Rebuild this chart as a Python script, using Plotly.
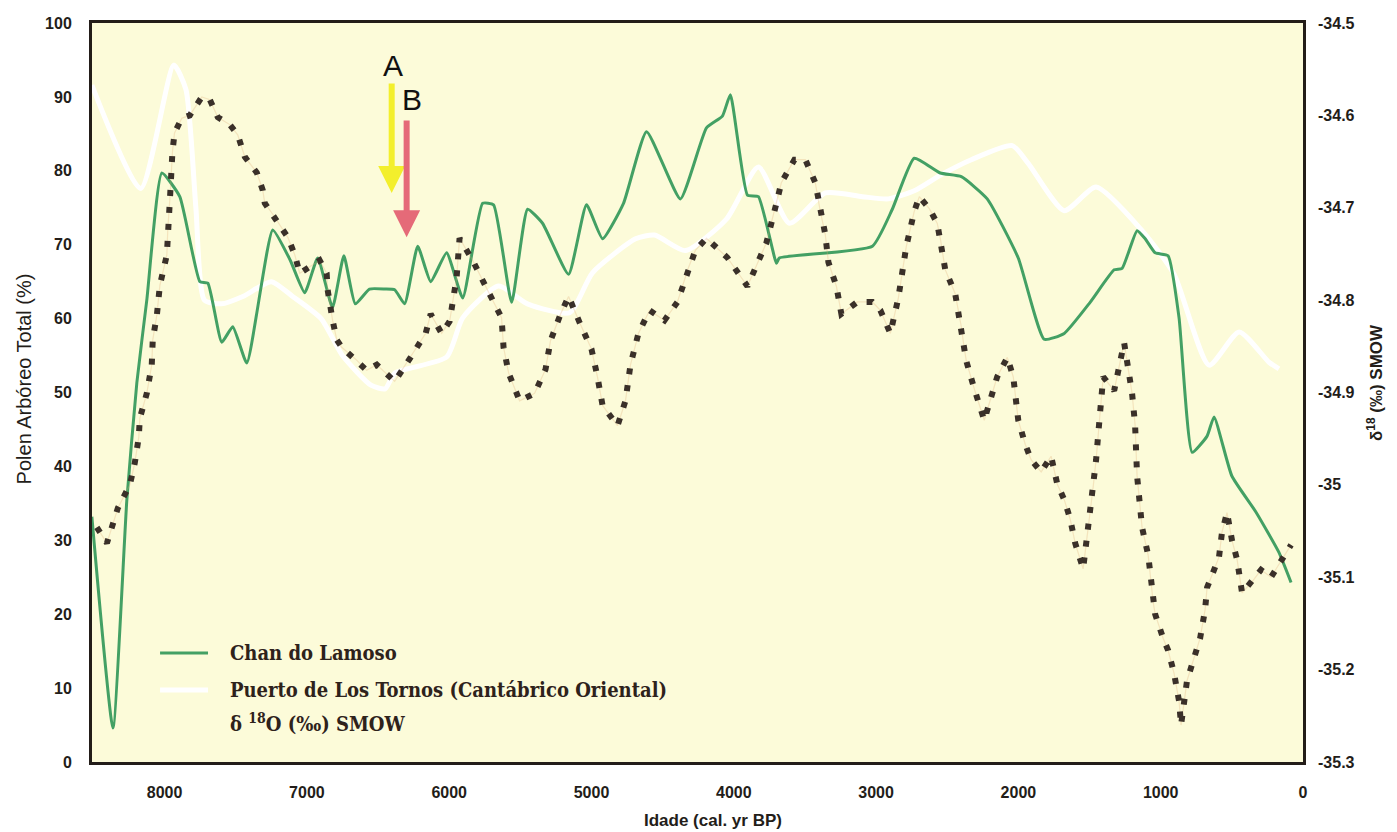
import plotly.graph_objects as go

# Chan do Lamoso – arboreal pollen (%)
lamoso_age = [8511, 8363, 8265, 8195, 8125, 8019, 7893, 7752, 7696, 7598, 7521, 7422, 7240, 7117, 7015,
              6924, 6820, 6740, 6660, 6560, 6450, 6383, 6313, 6221, 6130, 6018, 5905, 5765, 5688, 5561,
              5449, 5344, 5161, 5035, 4922, 4775, 4613, 4375, 4192, 4080, 4024, 3904, 3827, 3700, 3680,
              3026, 2886, 2732, 2549, 2401, 2219, 2001, 1819, 1678, 1496, 1327, 1271, 1166, 1109, 1039,
              948, 871, 779, 674, 625, 500, 330, 170, 84]
lamoso_ap = [33.2, 4.6, 35.5, 51.3, 62.5, 79.7, 76.5, 65.0, 64.8, 56.8, 58.9, 54.0, 72.0, 67.9, 63.5,
             68.2, 61.5, 68.5, 62.0, 64.0, 64.0, 63.9, 62.0, 69.8, 65.0, 68.9, 62.8, 75.6, 75.4, 62.2,
             74.8, 72.9, 66.0, 75.4, 70.8, 75.6, 85.3, 76.2, 85.8, 87.4, 90.3, 76.7, 76.5, 67.5, 68.2,
             69.8, 74.8, 81.7, 79.7, 79.2, 76.2, 68.2, 57.2, 58.0, 62.2, 66.6, 66.8, 71.9, 70.8, 68.9,
             68.5, 60.1, 41.9, 44.1, 46.7, 38.7, 33.8, 28.4, 24.3]

# Puerto de Los Tornos (Cantábrico Oriental) – arboreal pollen (%)
tornos_age = [8511, 8168, 7935, 7850, 7780, 7720, 7600, 7450, 7250, 7100, 6900, 6750, 6550, 6450, 6383,
              6018, 5905, 5653, 5450, 5154, 4993, 4690, 4557, 4340, 4050, 3827, 3609, 3357, 3097, 2914,
              2732, 2549, 2331, 2043, 1931, 1678, 1454, 1131, 906, 660, 449, 239, 169]
tornos_ap = [91.6, 77.6, 94.3, 91.0, 75.0, 62.5, 62.0, 63.0, 65.0, 63.0, 60.0, 55.0, 51.0, 50.5, 52.6,
             54.8, 60.1, 64.4, 62.0, 60.8, 66.2, 70.8, 71.3, 69.2, 73.5, 80.5, 72.9, 77.0, 76.5, 76.2,
             77.3, 79.4, 81.5, 83.4, 81.0, 74.6, 77.8, 71.9, 66.0, 53.7, 58.2, 54.1, 53.2]

# delta 18O (per mil, SMOW)
d18o_age = [8476, 8405, 8328, 8244, 8209, 8181, 8174, 8125, 8090, 8083, 8054, 8033, 7984, 7977, 7960,
            7945, 7930, 7879, 7823, 7738, 7682, 7626, 7542, 7486, 7436, 7352, 7310, 7296, 7226, 7170,
            7134, 7085, 7050, 6980, 6910, 6861, 6854, 6819, 6790, 6755, 6650, 6580, 6509, 6383, 6271,
            6165, 6130, 6053, 5997, 5948, 5927, 5835, 5744, 5632, 5618, 5582, 5505, 5400, 5323, 5288,
            5217, 5161, 5084, 5000, 4958, 4922, 4817, 4761, 4726, 4670, 4592, 4487, 4396, 4319, 4270,
            4192, 4045, 3904, 3771, 3700, 3666, 3574, 3497, 3427, 3392, 3357, 3335, 3279, 3244, 3132,
            3026, 2970, 2900, 2844, 2788, 2732, 2696, 2626, 2570, 2549, 2514, 2444, 2402, 2387, 2366,
            2310, 2240, 2149, 2078, 2036, 2001, 1952, 1910, 1840, 1770, 1727, 1678, 1636, 1601, 1545,
            1510, 1475, 1454, 1440, 1418, 1404, 1327, 1257, 1201, 1180, 1166, 1145, 1131, 1088, 1074,
            1053, 1039, 983, 948, 906, 871, 857, 815, 765, 723, 688, 674, 625, 590, 569,
            534, 499, 463, 428, 358, 295, 225, 84]
d18o_val = [-35.046, -35.063, -35.025, -35.000, -34.976, -34.948, -34.928, -34.901, -34.870, -34.843,
            -34.816, -34.784, -34.751, -34.722, -34.684, -34.640, -34.619, -34.603, -34.600, -34.580,
            -34.583, -34.602, -34.610, -34.621, -34.645, -34.662, -34.681, -34.695, -34.710, -34.724,
            -34.732, -34.751, -34.771, -34.764, -34.757, -34.771, -34.789, -34.822, -34.843, -34.851,
            -34.865, -34.876, -34.870, -34.888, -34.862, -34.836, -34.815, -34.836, -34.823, -34.776,
            -34.733, -34.757, -34.785, -34.819, -34.851, -34.879, -34.909, -34.901, -34.875, -34.844,
            -34.815, -34.796, -34.824, -34.853, -34.883, -34.914, -34.936, -34.909, -34.870, -34.836,
            -34.811, -34.822, -34.802, -34.765, -34.746, -34.733, -34.754, -34.785, -34.738, -34.695,
            -34.673, -34.648, -34.648, -34.673, -34.704, -34.729, -34.759, -34.785, -34.815, -34.802,
            -34.802, -34.811, -34.836, -34.798, -34.742, -34.704, -34.688, -34.701, -34.717, -34.733,
            -34.767, -34.793, -34.828, -34.845, -34.866, -34.896, -34.930, -34.883, -34.862, -34.883,
            -34.930, -34.956, -34.973, -34.986, -34.969, -34.999, -35.016, -35.037, -35.063, -35.091,
            -35.050, -35.003, -34.973, -34.947, -34.910, -34.883, -34.898, -34.846, -34.901, -34.935,
            -34.990, -35.020, -35.046, -35.076, -35.098, -35.127, -35.140, -35.166, -35.179, -35.204,
            -35.234, -35.260, -35.212, -35.187, -35.166, -35.135, -35.111, -35.092, -35.078, -35.051,
            -35.030, -35.060, -35.081, -35.117, -35.105, -35.092, -35.100, -35.065]

age_ticks = [8000, 7000, 6000, 5000, 4000, 3000, 2000, 1000, 0]
ap_ticks = [0, 10, 20, 30, 40, 50, 60, 70, 80, 90, 100]
d18o_ticks = [-35.3, -35.2, -35.1, -35.0, -34.9, -34.8, -34.7, -34.6, -34.5]
d18o_tick_text = ["-35.3", "-35.2", "-35.1", "-35", "-34.9", "-34.8", "-34.7", "-34.6", "-34.5"]

INK = "#231d19"
SANS = "Liberation Sans, Arial, sans-serif"
TICK_FONT = dict(family=SANS, size=16, color=INK, weight="bold")
LEGEND_FONT = dict(family="DejaVu Serif Condensed, DejaVu Serif, serif", size=20, color="#2e221b",
                   weight="bold")
GREEN = "#43a064"

fig = go.Figure()

fig.add_trace(go.Scatter(
    x=tornos_age, y=tornos_ap, mode="lines", name="Puerto de Los Tornos (Cantábrico Oriental)",
    line=dict(color="#ffffff", width=5, shape="spline", smoothing=0.6), showlegend=False))

fig.add_trace(go.Scatter(
    x=lamoso_age, y=lamoso_ap, mode="lines", name="Chan do Lamoso",
    line=dict(color=GREEN, width=3, shape="spline", smoothing=0.45), showlegend=False))

# faint thread of the isotope curve beneath its dots
fig.add_trace(go.Scatter(
    x=d18o_age, y=d18o_val, mode="lines", yaxis="y2", hoverinfo="skip",
    line=dict(color="rgba(222,170,115,0.28)", width=1.2), showlegend=False))

fig.add_trace(go.Scatter(
    x=d18o_age, y=d18o_val, mode="lines", name="δ18O (‰) SMOW", yaxis="y2",
    line=dict(color="#3a3029", width=6, dash="6px,11px"), showlegend=False))

fig.update_layout(
    width=1397, height=832,
    margin=dict(l=92, r=94, t=23, b=70),
    paper_bgcolor="#ffffff",
    plot_bgcolor="#fcfbd9",
    xaxis=dict(range=[8510, 0], tickvals=age_ticks, ticktext=[str(v) for v in age_ticks],
               showgrid=False, zeroline=False, showline=True, linecolor=INK, linewidth=3,
               mirror=True, ticks="", tickfont=TICK_FONT, ticklabelstandoff=14),
    yaxis=dict(range=[0, 100], tickvals=ap_ticks, showgrid=False, zeroline=False,
               showline=True, linecolor=INK, linewidth=3, mirror=True, ticks="",
               tickfont=TICK_FONT, ticklabelstandoff=14),
    yaxis2=dict(range=[-35.3, -34.5], tickvals=d18o_ticks, ticktext=d18o_tick_text,
                overlaying="y", side="right", showgrid=False, zeroline=False, ticks="",
                tickfont=TICK_FONT, ticklabelstandoff=14),
)

annotations = [
    # axis titles
    dict(text="Idade (cal. yr BP)", xref="paper", yref="paper", x=0.513, y=-0.0785,
         xanchor="center", yanchor="middle", showarrow=False,
         font=dict(family=SANS, size=17, color=INK, weight="bold")),
    dict(text="Polen Arbóreo Total (%)", xref="paper", yref="paper", x=-0.056, y=0.518,
         xanchor="center", yanchor="middle", textangle=-90, showarrow=False,
         font=dict(family=SANS, size=20, color=INK)),
    dict(text="δ<sup>18</sup> (‰) SMOW", xref="paper", yref="paper", x=1.0595, y=0.513,
         xanchor="center", yanchor="middle", textangle=-90, showarrow=False,
         font=dict(family=SANS, size=17, color=INK, weight="bold")),
    # event markers A and B
    dict(x=6404, y=77.0, ax=6404, ay=92.0, xref="x", yref="y", axref="x", ayref="y",
         text="", showarrow=True, arrowhead=2, arrowsize=0.9, arrowwidth=6, arrowcolor="#f3ef2c"),
    dict(x=6299, y=71.0, ax=6299, ay=87.0, xref="x", yref="y", axref="x", ayref="y",
         text="", showarrow=True, arrowhead=2, arrowsize=0.9, arrowwidth=6, arrowcolor="#e56a78"),
    dict(text="A", x=6397, y=94.3, xref="x", yref="y", showarrow=False,
         font=dict(family=SANS, size=30, color="#111111")),
    dict(text="B", x=6262, y=89.6, xref="x", yref="y", showarrow=False,
         font=dict(family=SANS, size=30, color="#111111")),
    # legend entries
    dict(text="Chan do Lamoso", xref="paper", yref="paper", x=0.1123, y=0.1475,
         xanchor="left", yanchor="middle", showarrow=False, font=LEGEND_FONT),
    dict(text="Puerto de Los Tornos (Cantábrico Oriental)", xref="paper", yref="paper",
         x=0.1123, y=0.0974, xanchor="left", yanchor="middle", showarrow=False, font=LEGEND_FONT),
    dict(text="δ <sup>18</sup>O (‰) SMOW", xref="paper", yref="paper", x=0.1123, y=0.0528,
         xanchor="left", yanchor="middle", showarrow=False, font=LEGEND_FONT),
]
fig.update_layout(annotations=annotations)

# legend line samples
fig.add_shape(type="line", xref="paper", yref="paper", x0=0.0562, x1=0.0958, y0=0.1475, y1=0.1475,
              line=dict(color=GREEN, width=3))
fig.add_shape(type="line", xref="paper", yref="paper", x0=0.0562, x1=0.0958, y0=0.0974, y1=0.0974,
              line=dict(color="#ffffff", width=5))

fig.write_html("out.html")
